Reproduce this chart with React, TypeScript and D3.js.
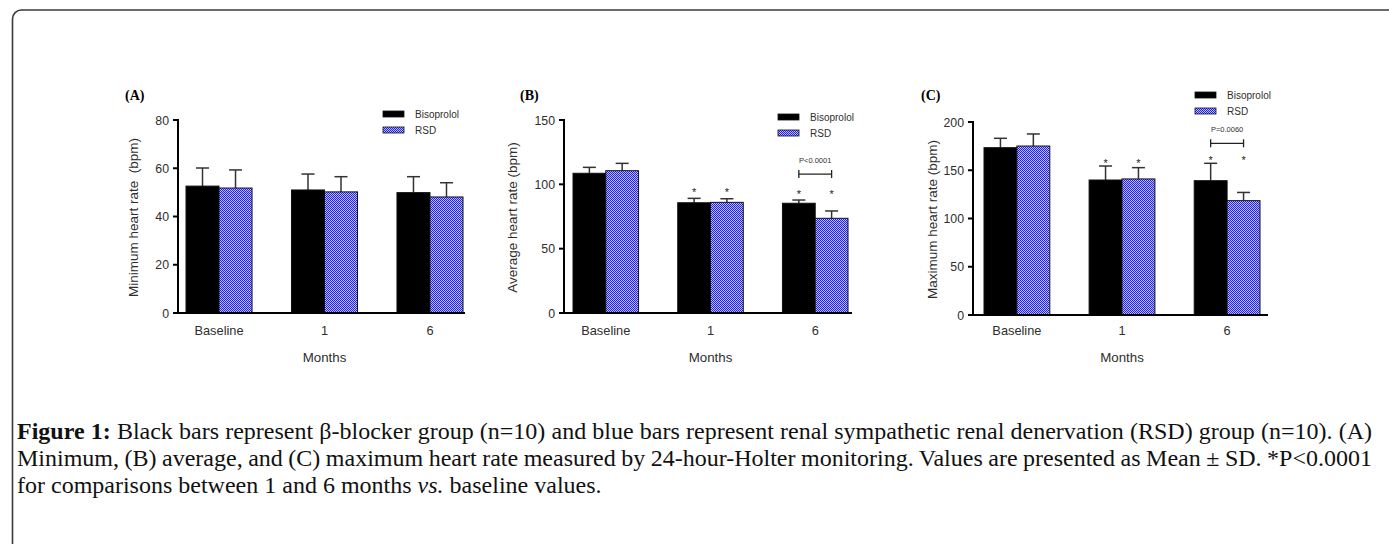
import * as d3 from 'd3';
import { useLayoutEffect, useRef, useState } from 'react';

const months = ['Baseline', '1', '6'];
const seriesNames = ['Bisoprolol', 'RSD'];

// (A) minimum heart rate
const minTicks = [0, 20, 40, 60, 80];
const minBisMean = [52.6, 51.0, 49.9];
const minBisSd = [7.5, 6.6, 6.6];
const minRsdMean = [51.8, 50.2, 48.1];
const minRsdSd = [7.5, 6.3, 5.9];

// (B) average heart rate
const avgTicks = [0, 50, 100, 150];
const avgBisMean = [108.6, 85.7, 85.3];
const avgBisSd = [4.6, 3.4, 2.5];
const avgRsdMean = [110.6, 86.0, 73.6];
const avgRsdSd = [5.7, 2.8, 5.7];
const avgStars = [false, true, true];
const avgPValue = 'P<0.0001';

// (C) maximum heart rate
const maxTicks = [0, 50, 100, 150, 200];
const maxBisMean = [173.4, 139.9, 139.2];
const maxBisSd = [9.7, 14.5, 18.0];
const maxRsdMean = [175.1, 141.0, 118.5];
const maxRsdSd = [12.5, 11.7, 8.5];
const maxStars = [false, true, true];
const maxPValue = 'P=0.0060';

const captionLines = [
  [
    { t: 'Figure 1:', w: 'bold' },
    { t: ' Black bars represent β-blocker group (n=10) and blue bars represent renal sympathetic renal denervation (RSD) group (n=10). (A)' },
  ],
  [{ t: 'Minimum, (B) average, and (C) maximum heart rate measured by 24-hour-Holter monitoring. Values are presented as Mean ± SD. *P<0.0001' }],
  [
    { t: 'for comparisons between 1 and 6 months ' },
    { t: 'vs.', i: true },
    { t: ' baseline values.' },
  ],
];

const SANS = '"Liberation Sans", Arial, sans-serif';
const SERIF = '"Liberation Serif", "Times New Roman", serif';
const TXT = '#2e2e2e';

const panels = [
  {
    key: 'A', tag: '(A)', tagX: 125, x0: 178, xStart: 186, xEnd: 463, axisEnd: 465,
    yTop: 120, yBottom: 313, ticks: minTicks, yLabel: 'Minimum heart rate  (bpm)', yLabelX: 133,
    legX: 383, legY: 111, means: [minBisMean, minRsdMean], sds: [minBisSd, minRsdSd],
    stars: null, pValue: null, starGap: 8, bracketGap: 16,
  },
  {
    key: 'B', tag: '(B)', tagX: 520, x0: 564, xStart: 573, xEnd: 848, axisEnd: 852,
    yTop: 120, yBottom: 313, ticks: avgTicks, yLabel: 'Average heart rate (bpm)', yLabelX: 512,
    legX: 778, legY: 114, means: [avgBisMean, avgRsdMean], sds: [avgBisSd, avgRsdSd],
    stars: avgStars, pValue: avgPValue, starGap: 9, bracketGap: 17,
  },
  {
    key: 'C', tag: '(C)', tagX: 921, x0: 973, xStart: 984, xEnd: 1260, axisEnd: 1268,
    yTop: 122, yBottom: 315, ticks: maxTicks, yLabel: 'Maximum heart rate (bpm)', yLabelX: 932,
    legX: 1195, legY: 92, means: [maxBisMean, maxRsdMean], sds: [maxBisSd, maxRsdSd],
    stars: maxStars, pValue: maxPValue, starGap: 6, bracketGap: 14,
  },
];

const fills = ['#000', 'url(#checker)'];

function Panel({ p }) {
  const x = d3.scaleBand().domain(months).range([p.xStart, p.xEnd]).paddingInner(0.374);
  const xs = d3.scaleBand().domain(seriesNames).range([0, x.bandwidth()]);
  const y = d3.scaleLinear().domain([0, p.ticks[p.ticks.length - 1]]).range([p.yBottom, p.yTop]);
  const midY = (p.yTop + p.yBottom) / 2 + 1;

  return (
    <g>
      <text x={p.tagX} y={100} fontFamily={SERIF} fontWeight="bold" fontSize={14}>{p.tag}</text>

      {months.map((m, i) => {
        const hi = d3.max(seriesNames, (s, j) => p.means[j][i] + p.sds[j][i]);
        const starY = y(hi) - p.starGap;
        return (
          <g key={m}>
            {seriesNames.map((s, j) => {
              const bx = x(m) + xs(s);
              const v = p.means[j][i];
              const top = v + p.sds[j][i];
              const cx = bx + xs.bandwidth() / 2;
              return (
                <g key={s}>
                  <line x1={cx} x2={cx} y1={y(v)} y2={y(top)} stroke="#333" strokeWidth={1.5} />
                  <line x1={cx - 6.5} x2={cx + 6.5} y1={y(top)} y2={y(top)} stroke="#333" strokeWidth={1.5} />
                  <rect x={bx} y={y(v)} width={xs.bandwidth()} height={y(0) - y(v)}
                    fill={fills[j]} stroke="#111" strokeWidth={1} />
                </g>
              );
            })}
            {p.stars && p.stars[i] && seriesNames.map((s) => (
              <text key={s} x={x(m) + xs(s) + xs.bandwidth() / 2} y={starY + 7} textAnchor="middle"
                fontFamily={SANS} fontSize={11} fill="#222">*</text>
            ))}
            {p.pValue && i === months.length - 1 && (() => {
              const by = starY - p.bracketGap;
              const c1 = x(m) + x.bandwidth() / 4;
              const c2 = x(m) + (3 * x.bandwidth()) / 4;
              return (
                <g>
                  <line x1={c1} x2={c2} y1={by} y2={by} stroke="#222" strokeWidth={1.3} />
                  <line x1={c1} x2={c1} y1={by - 4} y2={by + 4} stroke="#222" strokeWidth={1.3} />
                  <line x1={c2} x2={c2} y1={by - 4} y2={by + 4} stroke="#222" strokeWidth={1.3} />
                  <text x={(c1 + c2) / 2} y={by - 11} textAnchor="middle" fontFamily={SANS}
                    fontSize={7.5} fill={TXT}>{p.pValue}</text>
                </g>
              );
            })()}
            <text x={x(m) + x.bandwidth() / 2} y={334.5} textAnchor="middle" fontFamily={SANS}
              fontSize={12.8} fill={TXT}>{m}</text>
          </g>
        );
      })}

      <line x1={p.x0} x2={p.x0} y1={p.yTop - 1} y2={p.yBottom} stroke="#000" strokeWidth={2} />
      <line x1={p.x0 - 1} x2={p.axisEnd} y1={p.yBottom} y2={p.yBottom} stroke="#000" strokeWidth={2} />
      {p.ticks.map((t) => (
        <g key={t}>
          <line x1={p.x0 - 5} x2={p.x0} y1={y(t)} y2={y(t)} stroke="#000" strokeWidth={2} />
          <text x={p.x0 - 9} y={y(t) + 4.5} textAnchor="end" fontFamily={SANS} fontSize={12.3} fill={TXT}>{t}</text>
        </g>
      ))}

      <text x={(p.xStart + p.xEnd) / 2} y={362} textAnchor="middle" fontFamily={SANS}
        fontSize={13.3} fill={TXT}>Months</text>
      <text transform={`translate(${p.yLabelX},${midY}) rotate(-90)`} textAnchor="middle"
        dy="0.35em" fontFamily={SANS} fontSize={13.5} fill={TXT} style={{ whiteSpace: 'pre' }}>{p.yLabel}</text>

      {seriesNames.map((s, j) => (
        <g key={s}>
          <rect x={p.legX} y={p.legY + j * 16} width={21} height={6} fill={fills[j]} stroke="#111" strokeWidth={0.8} />
          <text x={p.legX + 32} y={p.legY + j * 16 + 7} fontFamily={SANS} fontSize={10} fill={TXT}>{s}</text>
        </g>
      ))}
    </g>
  );
}

function CaptionLine({ parts, x, y, width, justify }) {
  const ref = useRef(null);
  const [ws, setWs] = useState(0);
  useLayoutEffect(() => {
    if (!justify || !ref.current) return;
    const len = ref.current.getComputedTextLength();
    const spaces = parts.map((d) => d.t).join('').split(' ').length - 1;
    if (spaces > 0) setWs((width - len) / spaces);
  }, []);
  return (
    <text ref={ref} x={x} y={y} fontFamily={SERIF} fontSize={24} fill="#111"
      style={{ wordSpacing: `${ws}px`, whiteSpace: 'pre' }}>
      {parts.map((d, k) => (
        <tspan key={k} fontWeight={d.w || 'normal'} fontStyle={d.i ? 'italic' : 'normal'}>{d.t}</tspan>
      ))}
    </text>
  );
}

export default function App() {
  return (
    <svg width={1389} height={544} style={{ position: 'absolute', left: 0, top: 0, background: '#fff' }}>
      <defs>
        <pattern id="checker" width={2} height={2} patternUnits="userSpaceOnUse">
          <rect width={2} height={2} fill="#bcbcff" />
          <rect width={1} height={1} fill="#2222ee" />
          <rect x={1} y={1} width={1} height={1} fill="#2222ee" />
        </pattern>
      </defs>
      <rect x={12.5} y={10} width={1420} height={580} rx={9} fill="none" stroke="#3a3a3a" strokeWidth={1.6} />
      {panels.map((p) => <Panel key={p.key} p={p} />)}
      {captionLines.map((parts, k) => (
        <CaptionLine key={k} parts={parts} x={17} y={439 + k * 27} width={1355} justify={k < 2} />
      ))}
    </svg>
  );
}
